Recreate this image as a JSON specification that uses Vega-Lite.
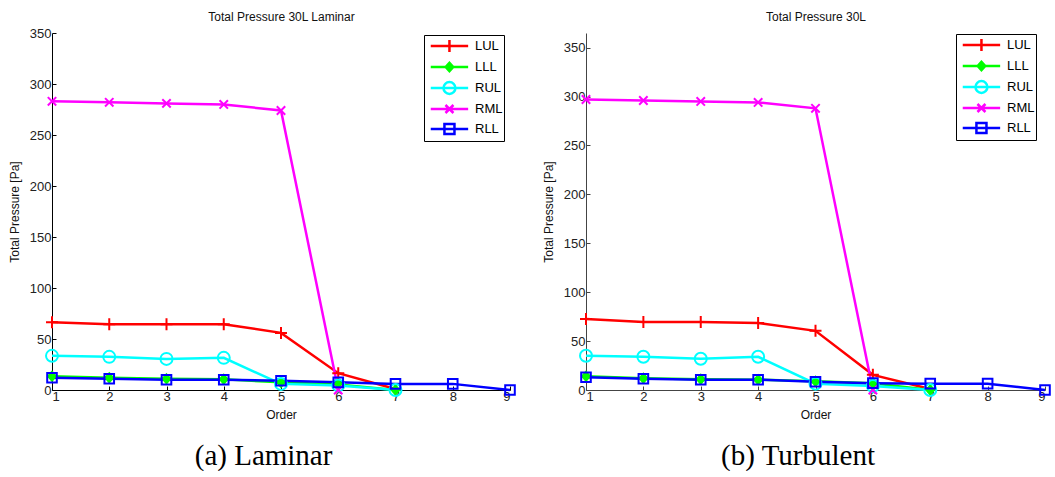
{
  "$schema": "https://vega.github.io/schema/vega-lite/v6.json",
  "padding": {"left": 8, "top": 10, "right": 0, "bottom": 0},
  "background": "white",
  "config": {
    "view": {"stroke": null},
    "font": "Liberation Sans",
    "axis": {"grid": false, "domainColor": "black", "tickColor": "black", "labelFont": "Liberation Sans", "labelFontSize": 13, "labelColor": "#222", "titleFont": "Liberation Sans", "titleFontSize": 12, "titleFontWeight": "normal", "titleColor": "#111", "tickSize": -4, "domainWidth": 1},
    "title": {"font": "Liberation Serif", "fontSize": 29, "fontWeight": "normal", "color": "black", "anchor": "middle", "frame": "bounds"},
    "legend": {"title": null, "orient": "none", "strokeColor": "black", "fillColor": "white", "padding": 1, "rowPadding": 0, "labelFont": "Liberation Sans", "labelFontSize": 13, "labelColor": "black", "labelOffset": 30, "labelExpr": "datum.label + '  '", "symbolSize": 289, "symbolStrokeWidth": 2.5},
    "concat": {"spacing": 23}
  },
  "datasets": {
    "lam": [
      {"series": "LUL", "order": 1, "p": 66.5}, {"series": "LUL", "order": 2, "p": 64.5}, {"series": "LUL", "order": 3, "p": 64.5}, {"series": "LUL", "order": 4, "p": 64.5}, {"series": "LUL", "order": 5, "p": 56}, {"series": "LUL", "order": 6, "p": 16.5}, {"series": "LUL", "order": 7, "p": 1},
      {"series": "LLL", "order": 1, "p": 13.5}, {"series": "LLL", "order": 2, "p": 12}, {"series": "LLL", "order": 3, "p": 11}, {"series": "LLL", "order": 4, "p": 10.5}, {"series": "LLL", "order": 5, "p": 7.5}, {"series": "LLL", "order": 6, "p": 5.5}, {"series": "LLL", "order": 7, "p": 0},
      {"series": "RUL", "order": 1, "p": 33.5}, {"series": "RUL", "order": 2, "p": 32.5}, {"series": "RUL", "order": 3, "p": 30.5}, {"series": "RUL", "order": 4, "p": 31.5}, {"series": "RUL", "order": 5, "p": 6}, {"series": "RUL", "order": 6, "p": 4.5}, {"series": "RUL", "order": 7, "p": 0},
      {"series": "RML", "order": 1, "p": 283}, {"series": "RML", "order": 2, "p": 282}, {"series": "RML", "order": 3, "p": 281}, {"series": "RML", "order": 4, "p": 280}, {"series": "RML", "order": 5, "p": 274}, {"series": "RML", "order": 6, "p": 0},
      {"series": "RLL", "order": 1, "p": 12}, {"series": "RLL", "order": 2, "p": 11}, {"series": "RLL", "order": 3, "p": 10}, {"series": "RLL", "order": 4, "p": 10}, {"series": "RLL", "order": 5, "p": 9}, {"series": "RLL", "order": 6, "p": 7.5}, {"series": "RLL", "order": 7, "p": 6}, {"series": "RLL", "order": 8, "p": 6}, {"series": "RLL", "order": 9, "p": 0}
    ],
    "turb": [
      {"series": "LUL", "order": 1, "p": 72.5}, {"series": "LUL", "order": 2, "p": 69.5}, {"series": "LUL", "order": 3, "p": 69.5}, {"series": "LUL", "order": 4, "p": 68.5}, {"series": "LUL", "order": 5, "p": 60.5}, {"series": "LUL", "order": 6, "p": 15.5}, {"series": "LUL", "order": 7, "p": 1},
      {"series": "LLL", "order": 1, "p": 14}, {"series": "LLL", "order": 2, "p": 12}, {"series": "LLL", "order": 3, "p": 11}, {"series": "LLL", "order": 4, "p": 10.5}, {"series": "LLL", "order": 5, "p": 9}, {"series": "LLL", "order": 6, "p": 7}, {"series": "LLL", "order": 7, "p": 0},
      {"series": "RUL", "order": 1, "p": 35}, {"series": "RUL", "order": 2, "p": 34}, {"series": "RUL", "order": 3, "p": 32}, {"series": "RUL", "order": 4, "p": 34}, {"series": "RUL", "order": 5, "p": 6.5}, {"series": "RUL", "order": 6, "p": 4}, {"series": "RUL", "order": 7, "p": 0},
      {"series": "RML", "order": 1, "p": 297}, {"series": "RML", "order": 2, "p": 296}, {"series": "RML", "order": 3, "p": 295}, {"series": "RML", "order": 4, "p": 294}, {"series": "RML", "order": 5, "p": 288}, {"series": "RML", "order": 6, "p": 0},
      {"series": "RLL", "order": 1, "p": 13}, {"series": "RLL", "order": 2, "p": 11.5}, {"series": "RLL", "order": 3, "p": 10.5}, {"series": "RLL", "order": 4, "p": 10.5}, {"series": "RLL", "order": 5, "p": 8.5}, {"series": "RLL", "order": 6, "p": 7}, {"series": "RLL", "order": 7, "p": 6.5}, {"series": "RLL", "order": 8, "p": 6.5}, {"series": "RLL", "order": 9, "p": 0}
    ]
  },
  "hconcat": [
    {
      "width": 458, "height": 357,
      "title": {"text": "(a) Laminar", "orient": "bottom", "offset": 22},
      "data": {"name": "lam"},
      "resolve": {"axis": {"x": "independent"}, "scale": {"shape": "independent", "color": "independent", "fill": "independent"}},
      "encoding": {
        "y": {"field": "p", "type": "quantitative", "scale": {"domain": [0, 350], "nice": false}, "axis": {"title": "Total Pressure [Pa]", "values": [0,50,100,150,200,250,300,350], "labelPadding": 5, "titlePadding": 8}}
      },
      "layer": [
        {"mark": {"type": "line", "strokeWidth": 2.5},
         "encoding": {
           "x": {"field": "order", "type": "quantitative", "scale": {"domain": [1, 9], "nice": false, "zero": false}, "axis": {"title": "Order", "values": [1,2,3,4,5,6,7,8,9], "labelPadding": 4, "titlePadding": 6}},
           "color": {"field": "series", "type": "nominal", "scale": {"domain": ["LUL","LLL","RUL","RML","RLL"], "range": ["#ff0000","#00ff00","#00ffff","#ff00ff","#0000ff"]}, "legend": null}
         }},
        {"mark": {"type": "point", "filled": false, "size": 144, "strokeWidth": 2, "opacity": 1},
         "encoding": {
           "x": {"field": "order", "type": "quantitative", "scale": {"domain": [1, 9], "nice": false, "zero": false}, "axis": {"orient": "top", "title": "Total Pressure 30L Laminar", "labels": false, "ticks": false, "domain": false, "titlePadding": 10, "titleFontSize": 12}},
           "color": {"field": "series", "type": "nominal", "scale": {"domain": ["LUL","LLL","RUL","RML","RLL"], "range": ["#ff0000","#00ff00","#00ffff","#ff00ff","#0000ff"]}, "legend": null},
           "shape": {"field": "series", "type": "nominal", "scale": {"domain": ["LUL","LLL","RUL","RML","RLL"], "range": ["M-1,0H1M0,-1V1", "M0,-0.75L0.65,0L0,0.75L-0.65,0Z", "circle", "M-0.7,-0.7L0.7,0.7M-0.7,0.7L0.7,-0.7", "M-0.8,-0.8H0.8V0.8H-0.8Z"]}, "legend": null},
           "fill": {"field": "series", "type": "nominal", "scale": {"domain": ["LUL","LLL","RUL","RML","RLL"], "range": ["transparent","#00ff00","transparent","transparent","transparent"]}, "legend": null}
         }},
        {"transform": [{"filter": "datum.order > 100"}],
         "mark": {"type": "point", "filled": false, "opacity": 1},
         "encoding": {
           "x": {"field": "order", "type": "quantitative", "axis": null},
           "color": {"field": "series", "type": "nominal", "scale": {"domain": ["LUL","LLL","RUL","RML","RLL"], "range": ["#ff0000","#00ff00","#00ffff","#ff00ff","#0000ff"]}, "legend": {"legendX": 372, "legendY": 2}},
           "fill": {"field": "series", "type": "nominal", "scale": {"domain": ["LUL","LLL","RUL","RML","RLL"], "range": ["transparent","#00ff00","transparent","transparent","transparent"]}, "legend": {"legendX": 372, "legendY": 2}},
           "shape": {"field": "series", "type": "nominal", "scale": {"domain": ["LUL","LLL","RUL","RML","RLL"], "range": ["M-0.5,0H3.9M1.7,-0.7V0.7", "M-0.5,0H3.9M1.7,-0.5L2.15,0L1.7,0.5L1.25,0Z", "M-0.5,0H3.9M2.4,0A0.7,0.7,0,1,1,1,0A0.7,0.7,0,1,1,2.4,0", "M-0.5,0H3.9M1.23,-0.47L2.17,0.47M1.23,0.47L2.17,-0.47", "M-0.5,0H3.9M1.11,-0.59H2.29V0.59H1.11Z"]}, "legend": {"legendX": 372, "legendY": 2}}
         }}
      ]
    },
    {
      "width": 459, "height": 357,
      "title": {"text": "(b) Turbulent", "orient": "bottom", "offset": 22},
      "data": {"name": "turb"},
      "resolve": {"axis": {"x": "independent"}, "scale": {"shape": "independent", "color": "independent", "fill": "independent"}},
      "encoding": {
        "y": {"field": "p", "type": "quantitative", "scale": {"domain": [0, 365], "nice": false}, "axis": {"title": "Total Pressure [Pa]", "values": [0,50,100,150,200,250,300,350], "labelPadding": 5, "titlePadding": 8, "domainColor": "#444", "tickColor": "#444"}}
      },
      "layer": [
        {"mark": {"type": "line", "strokeWidth": 2.5},
         "encoding": {
           "x": {"field": "order", "type": "quantitative", "scale": {"domain": [1, 9], "nice": false, "zero": false}, "axis": {"title": "Order", "values": [1,2,3,4,5,6,7,8,9], "labelPadding": 4, "titlePadding": 6, "domainColor": "#444", "tickColor": "#444"}},
           "color": {"field": "series", "type": "nominal", "scale": {"domain": ["LUL","LLL","RUL","RML","RLL"], "range": ["#ff0000","#00ff00","#00ffff","#ff00ff","#0000ff"]}, "legend": null}
         }},
        {"mark": {"type": "point", "filled": false, "size": 144, "strokeWidth": 2, "opacity": 1},
         "encoding": {
           "x": {"field": "order", "type": "quantitative", "scale": {"domain": [1, 9], "nice": false, "zero": false}, "axis": {"orient": "top", "title": "Total Pressure 30L", "labels": false, "ticks": false, "domain": false, "titlePadding": 10, "titleFontSize": 12}},
           "color": {"field": "series", "type": "nominal", "scale": {"domain": ["LUL","LLL","RUL","RML","RLL"], "range": ["#ff0000","#00ff00","#00ffff","#ff00ff","#0000ff"]}, "legend": null},
           "shape": {"field": "series", "type": "nominal", "scale": {"domain": ["LUL","LLL","RUL","RML","RLL"], "range": ["M-1,0H1M0,-1V1", "M0,-0.75L0.65,0L0,0.75L-0.65,0Z", "circle", "M-0.7,-0.7L0.7,0.7M-0.7,0.7L0.7,-0.7", "M-0.8,-0.8H0.8V0.8H-0.8Z"]}, "legend": null},
           "fill": {"field": "series", "type": "nominal", "scale": {"domain": ["LUL","LLL","RUL","RML","RLL"], "range": ["transparent","#00ff00","transparent","transparent","transparent"]}, "legend": null}
         }},
        {"transform": [{"filter": "datum.order > 100"}],
         "mark": {"type": "point", "filled": false, "opacity": 1},
         "encoding": {
           "x": {"field": "order", "type": "quantitative", "axis": null},
           "color": {"field": "series", "type": "nominal", "scale": {"domain": ["LUL","LLL","RUL","RML","RLL"], "range": ["#ff0000","#00ff00","#00ffff","#ff00ff","#0000ff"]}, "legend": {"legendX": 370, "legendY": 1}},
           "fill": {"field": "series", "type": "nominal", "scale": {"domain": ["LUL","LLL","RUL","RML","RLL"], "range": ["transparent","#00ff00","transparent","transparent","transparent"]}, "legend": {"legendX": 370, "legendY": 1}},
           "shape": {"field": "series", "type": "nominal", "scale": {"domain": ["LUL","LLL","RUL","RML","RLL"], "range": ["M-0.5,0H3.9M1.7,-0.7V0.7", "M-0.5,0H3.9M1.7,-0.5L2.15,0L1.7,0.5L1.25,0Z", "M-0.5,0H3.9M2.4,0A0.7,0.7,0,1,1,1,0A0.7,0.7,0,1,1,2.4,0", "M-0.5,0H3.9M1.23,-0.47L2.17,0.47M1.23,0.47L2.17,-0.47", "M-0.5,0H3.9M1.11,-0.59H2.29V0.59H1.11Z"]}, "legend": {"legendX": 370, "legendY": 1}}
         }}
      ]
    }
  ]
}
